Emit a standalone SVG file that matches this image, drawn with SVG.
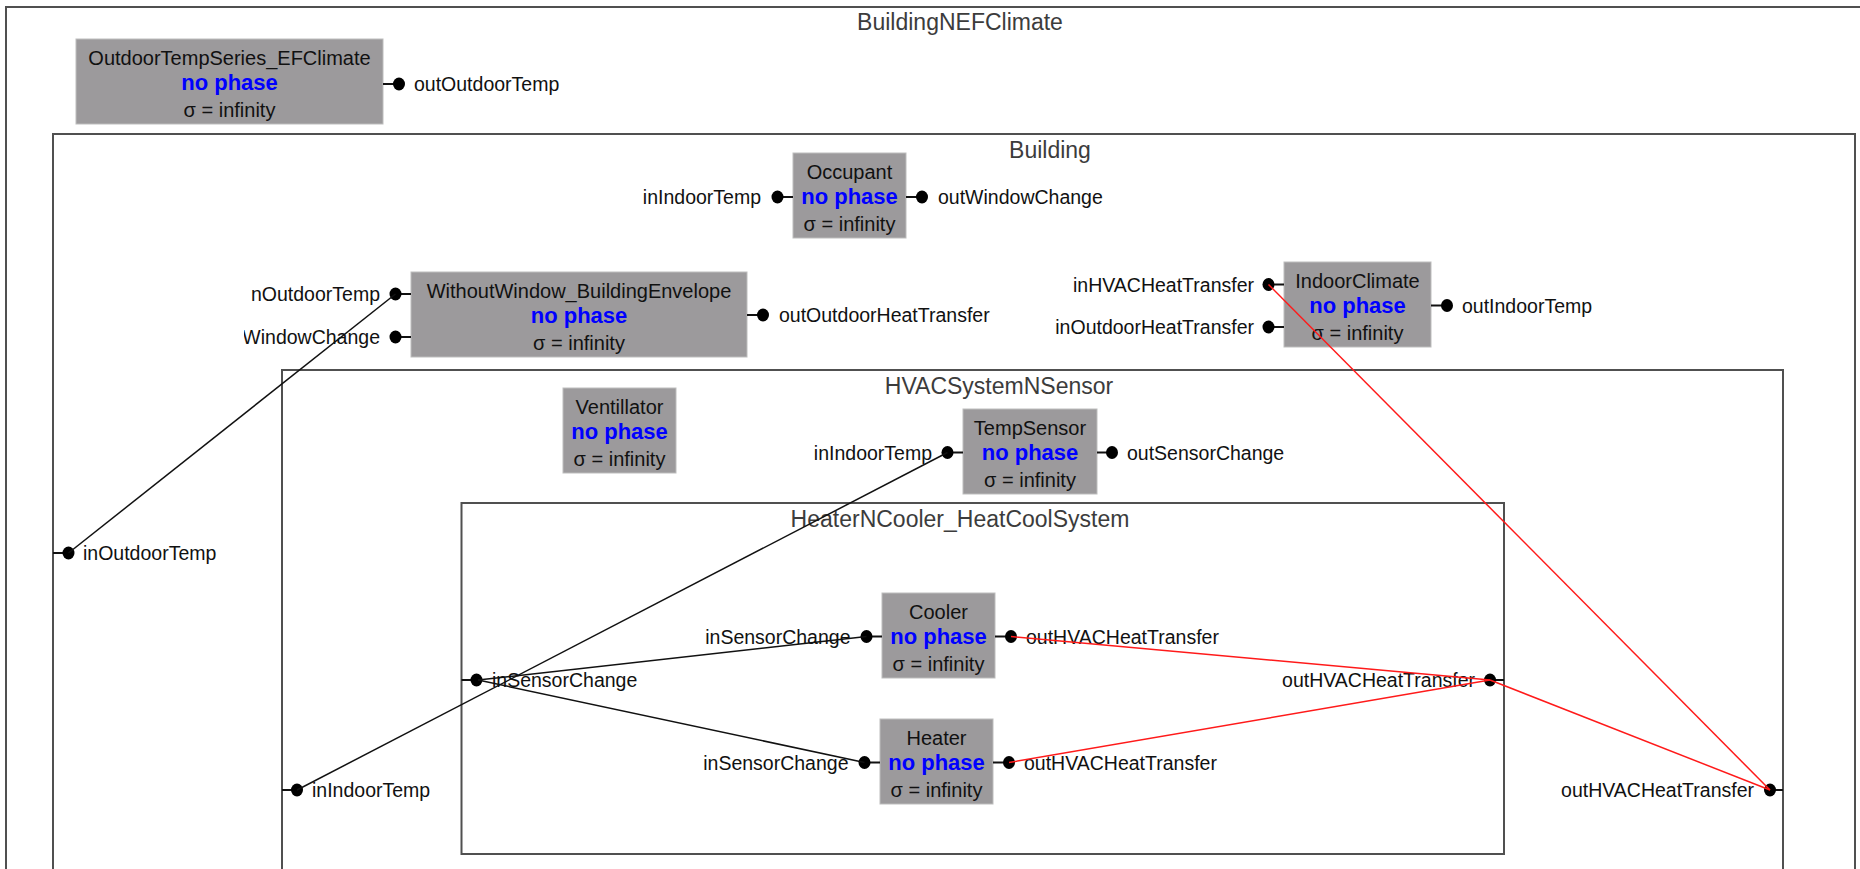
<svg xmlns="http://www.w3.org/2000/svg" width="1860" height="869" viewBox="0 0 1860 869">
  <defs>
    <style>
      text { font-family: "Liberation Sans", Arial, sans-serif; dominant-baseline: central; }
      .frame { fill: none; stroke: #505050; stroke-width: 2; }
      .ftitle { font-size: 23px; fill: #3c3c3c; text-anchor: middle; }
      .box { fill: #9c9a9c; stroke: #bdbdbd; stroke-width: 1; }
      .name { font-size: 20px; fill: #111; text-anchor: middle; }
      .phase { font-size: 22px; font-weight: bold; fill: #0000ff; text-anchor: middle; }
      .sigma { font-size: 20px; fill: #111; text-anchor: middle; }
      .lbl { font-size: 19.5px; fill: #111; }
      .lbl.l { text-anchor: end; }
      .lbl.r { text-anchor: start; }
      .stub { stroke: #111; stroke-width: 2; }
      .dot { fill: #000; }
      .wire { fill: none; stroke: #111; stroke-width: 1.5; }
      .wire.hot { stroke: #ff1a1a; }
    </style>
    <clipPath id="envClip"><rect x="244" y="270" width="200" height="90"/></clipPath>
  </defs>

  <rect width="1860" height="869" fill="#fff"/>

  <!-- coupled model frames -->
  <g id="BuildingNEFClimate">
    <rect class="frame" x="6" y="7" width="1880" height="900"/>
    <text class="ftitle" x="960" y="22">BuildingNEFClimate</text>
  </g>
  <g id="Building">
    <rect class="frame" x="53" y="134" width="1802" height="800"/>
    <text class="ftitle" x="1050" y="150">Building</text>
    <line class="stub" x1="53" y1="553" x2="68.5" y2="553"/>
    <ellipse class="dot" cx="68.5" cy="553" rx="6" ry="6.5"/>
    <text class="lbl r" x="83" y="553">inOutdoorTemp</text>
  </g>
  <g id="HVACSystemNSensor">
    <rect class="frame" x="282" y="370" width="1501" height="600"/>
    <text class="ftitle" x="999" y="386">HVACSystemNSensor</text>
    <line class="stub" x1="282" y1="790" x2="297" y2="790"/>
    <ellipse class="dot" cx="297" cy="790" rx="6" ry="6.5"/>
    <text class="lbl r" x="312" y="790">inIndoorTemp</text>
    <line class="stub" x1="1770" y1="790" x2="1783" y2="790"/>
    <ellipse class="dot" cx="1770" cy="790" rx="6" ry="6.5"/>
    <text class="lbl l" x="1754" y="790">outHVACHeatTransfer</text>
  </g>
  <g id="HeaterNCooler_HeatCoolSystem">
    <rect class="frame" x="461.5" y="503" width="1042.5" height="351"/>
    <text class="ftitle" x="960" y="519">HeaterNCooler_HeatCoolSystem</text>
    <line class="stub" x1="461.5" y1="680" x2="476.5" y2="680"/>
    <ellipse class="dot" cx="476.5" cy="680" rx="6" ry="6.5"/>
    <text class="lbl r" x="492" y="680">inSensorChange</text>
    <line class="stub" x1="1490" y1="680" x2="1504" y2="680"/>
    <ellipse class="dot" cx="1490" cy="680" rx="6" ry="6.5"/>
    <text class="lbl l" x="1475" y="680">outHVACHeatTransfer</text>
  </g>

  <!-- atomic models -->
  <g id="OutdoorTempSeries_EFClimate">
    <rect class="box" x="76" y="39" width="307" height="85"/>
    <text class="name" x="229.5" y="57.5">OutdoorTempSeries_EFClimate</text>
    <text class="phase" x="229.5" y="82.5">no phase</text>
    <text class="sigma" x="229.5" y="109.5">σ = infinity</text>
    <line class="stub" x1="383" y1="84" x2="399" y2="84"/>
    <ellipse class="dot" cx="399" cy="84" rx="6" ry="6.5"/>
    <text class="lbl r" x="414" y="84">outOutdoorTemp</text>
  </g>

  <g id="Occupant">
    <rect class="box" x="793" y="153" width="113" height="85"/>
    <text class="name" x="849.5" y="171.5">Occupant</text>
    <text class="phase" x="849.5" y="196.5">no phase</text>
    <text class="sigma" x="849.5" y="223.5">σ = infinity</text>
    <line class="stub" x1="777.5" y1="197" x2="793" y2="197"/>
    <ellipse class="dot" cx="777.5" cy="197" rx="6" ry="6.5"/>
    <text class="lbl l" x="761" y="197">inIndoorTemp</text>
    <line class="stub" x1="906" y1="197" x2="922" y2="197"/>
    <ellipse class="dot" cx="922" cy="197" rx="6" ry="6.5"/>
    <text class="lbl r" x="938" y="197">outWindowChange</text>
  </g>

  <g id="WithoutWindow_BuildingEnvelope">
    <rect class="box" x="411" y="272" width="336" height="85"/>
    <text class="name" x="579" y="290.5">WithoutWindow_BuildingEnvelope</text>
    <text class="phase" x="579" y="315.5">no phase</text>
    <text class="sigma" x="579" y="342.5">σ = infinity</text>
    <line class="stub" x1="395.5" y1="294" x2="411" y2="294"/>
    <ellipse class="dot" cx="395.5" cy="294" rx="6" ry="6.5"/>
    <line class="stub" x1="395.5" y1="337" x2="411" y2="337"/>
    <ellipse class="dot" cx="395.5" cy="337" rx="6" ry="6.5"/>
    <g clip-path="url(#envClip)">
      <text class="lbl l" x="380" y="294">nOutdoorTemp</text>
      <text class="lbl l" x="380" y="337">WindowChange</text>
    </g>
    <line class="stub" x1="747" y1="315" x2="763" y2="315"/>
    <ellipse class="dot" cx="763" cy="315" rx="6" ry="6.5"/>
    <text class="lbl r" x="779" y="315">outOutdoorHeatTransfer</text>
  </g>

  <g id="IndoorClimate">
    <rect class="box" x="1284" y="262" width="147" height="85"/>
    <text class="name" x="1357.5" y="280.5">IndoorClimate</text>
    <text class="phase" x="1357.5" y="305.5">no phase</text>
    <text class="sigma" x="1357.5" y="332.5">σ = infinity</text>
    <line class="stub" x1="1268.5" y1="284.5" x2="1284" y2="284.5"/>
    <ellipse class="dot" cx="1268.5" cy="284.5" rx="6" ry="6.5"/>
    <text class="lbl l" x="1254" y="284.5">inHVACHeatTransfer</text>
    <line class="stub" x1="1268.5" y1="327" x2="1284" y2="327"/>
    <ellipse class="dot" cx="1268.5" cy="327" rx="6" ry="6.5"/>
    <text class="lbl l" x="1254" y="327">inOutdoorHeatTransfer</text>
    <line class="stub" x1="1431" y1="305.5" x2="1447" y2="305.5"/>
    <ellipse class="dot" cx="1447" cy="305.5" rx="6" ry="6.5"/>
    <text class="lbl r" x="1462" y="305.5">outIndoorTemp</text>
  </g>

  <g id="Ventillator">
    <rect class="box" x="563" y="388" width="113" height="85"/>
    <text class="name" x="619.5" y="406.5">Ventillator</text>
    <text class="phase" x="619.5" y="431.5">no phase</text>
    <text class="sigma" x="619.5" y="458.5">σ = infinity</text>
  </g>

  <g id="TempSensor">
    <rect class="box" x="963" y="409" width="134" height="85"/>
    <text class="name" x="1030" y="427.5">TempSensor</text>
    <text class="phase" x="1030" y="452.5">no phase</text>
    <text class="sigma" x="1030" y="479.5">σ = infinity</text>
    <line class="stub" x1="947.5" y1="452.5" x2="963" y2="452.5"/>
    <ellipse class="dot" cx="947.5" cy="452.5" rx="6" ry="6.5"/>
    <text class="lbl l" x="932" y="452.5">inIndoorTemp</text>
    <line class="stub" x1="1097" y1="452.5" x2="1112" y2="452.5"/>
    <ellipse class="dot" cx="1112" cy="452.5" rx="6" ry="6.5"/>
    <text class="lbl r" x="1127" y="452.5">outSensorChange</text>
  </g>

  <g id="Cooler">
    <rect class="box" x="882" y="593" width="113" height="85"/>
    <text class="name" x="938.5" y="611.5">Cooler</text>
    <text class="phase" x="938.5" y="636.5">no phase</text>
    <text class="sigma" x="938.5" y="663.5">σ = infinity</text>
    <line class="stub" x1="866.5" y1="636.5" x2="882" y2="636.5"/>
    <ellipse class="dot" cx="866.5" cy="636.5" rx="6" ry="6.5"/>
    <text class="lbl l" x="850.5" y="636.5">inSensorChange</text>
    <line class="stub" x1="995" y1="636.5" x2="1011" y2="636.5"/>
    <ellipse class="dot" cx="1011" cy="636.5" rx="6" ry="6.5"/>
    <text class="lbl r" x="1026" y="636.5">outHVACHeatTransfer</text>
  </g>

  <g id="Heater">
    <rect class="box" x="880" y="719" width="113" height="85"/>
    <text class="name" x="936.5" y="737.5">Heater</text>
    <text class="phase" x="936.5" y="762.5">no phase</text>
    <text class="sigma" x="936.5" y="789.5">σ = infinity</text>
    <line class="stub" x1="864.5" y1="762.5" x2="880" y2="762.5"/>
    <ellipse class="dot" cx="864.5" cy="762.5" rx="6" ry="6.5"/>
    <text class="lbl l" x="848.5" y="762.5">inSensorChange</text>
    <line class="stub" x1="993" y1="762.5" x2="1009" y2="762.5"/>
    <ellipse class="dot" cx="1009" cy="762.5" rx="6" ry="6.5"/>
    <text class="lbl r" x="1024" y="762.5">outHVACHeatTransfer</text>
  </g>

  <!-- couplings -->
  <g id="connectors">
    <line class="wire" x1="68.5" y1="553" x2="395.5" y2="294"/>
    <line class="wire" x1="297" y1="790" x2="947.5" y2="452.5"/>
    <line class="wire" x1="478" y1="680" x2="866.5" y2="636.5"/>
    <line class="wire" x1="478" y1="680" x2="864.5" y2="762.5"/>
    <line class="wire hot" x1="1011" y1="636.5" x2="1490" y2="680"/>
    <line class="wire hot" x1="1009" y1="762.5" x2="1490" y2="680"/>
    <line class="wire hot" x1="1490" y1="680" x2="1770" y2="790"/>
    <line class="wire hot" x1="1268.5" y1="284.5" x2="1770" y2="790"/>
  </g>
</svg>
